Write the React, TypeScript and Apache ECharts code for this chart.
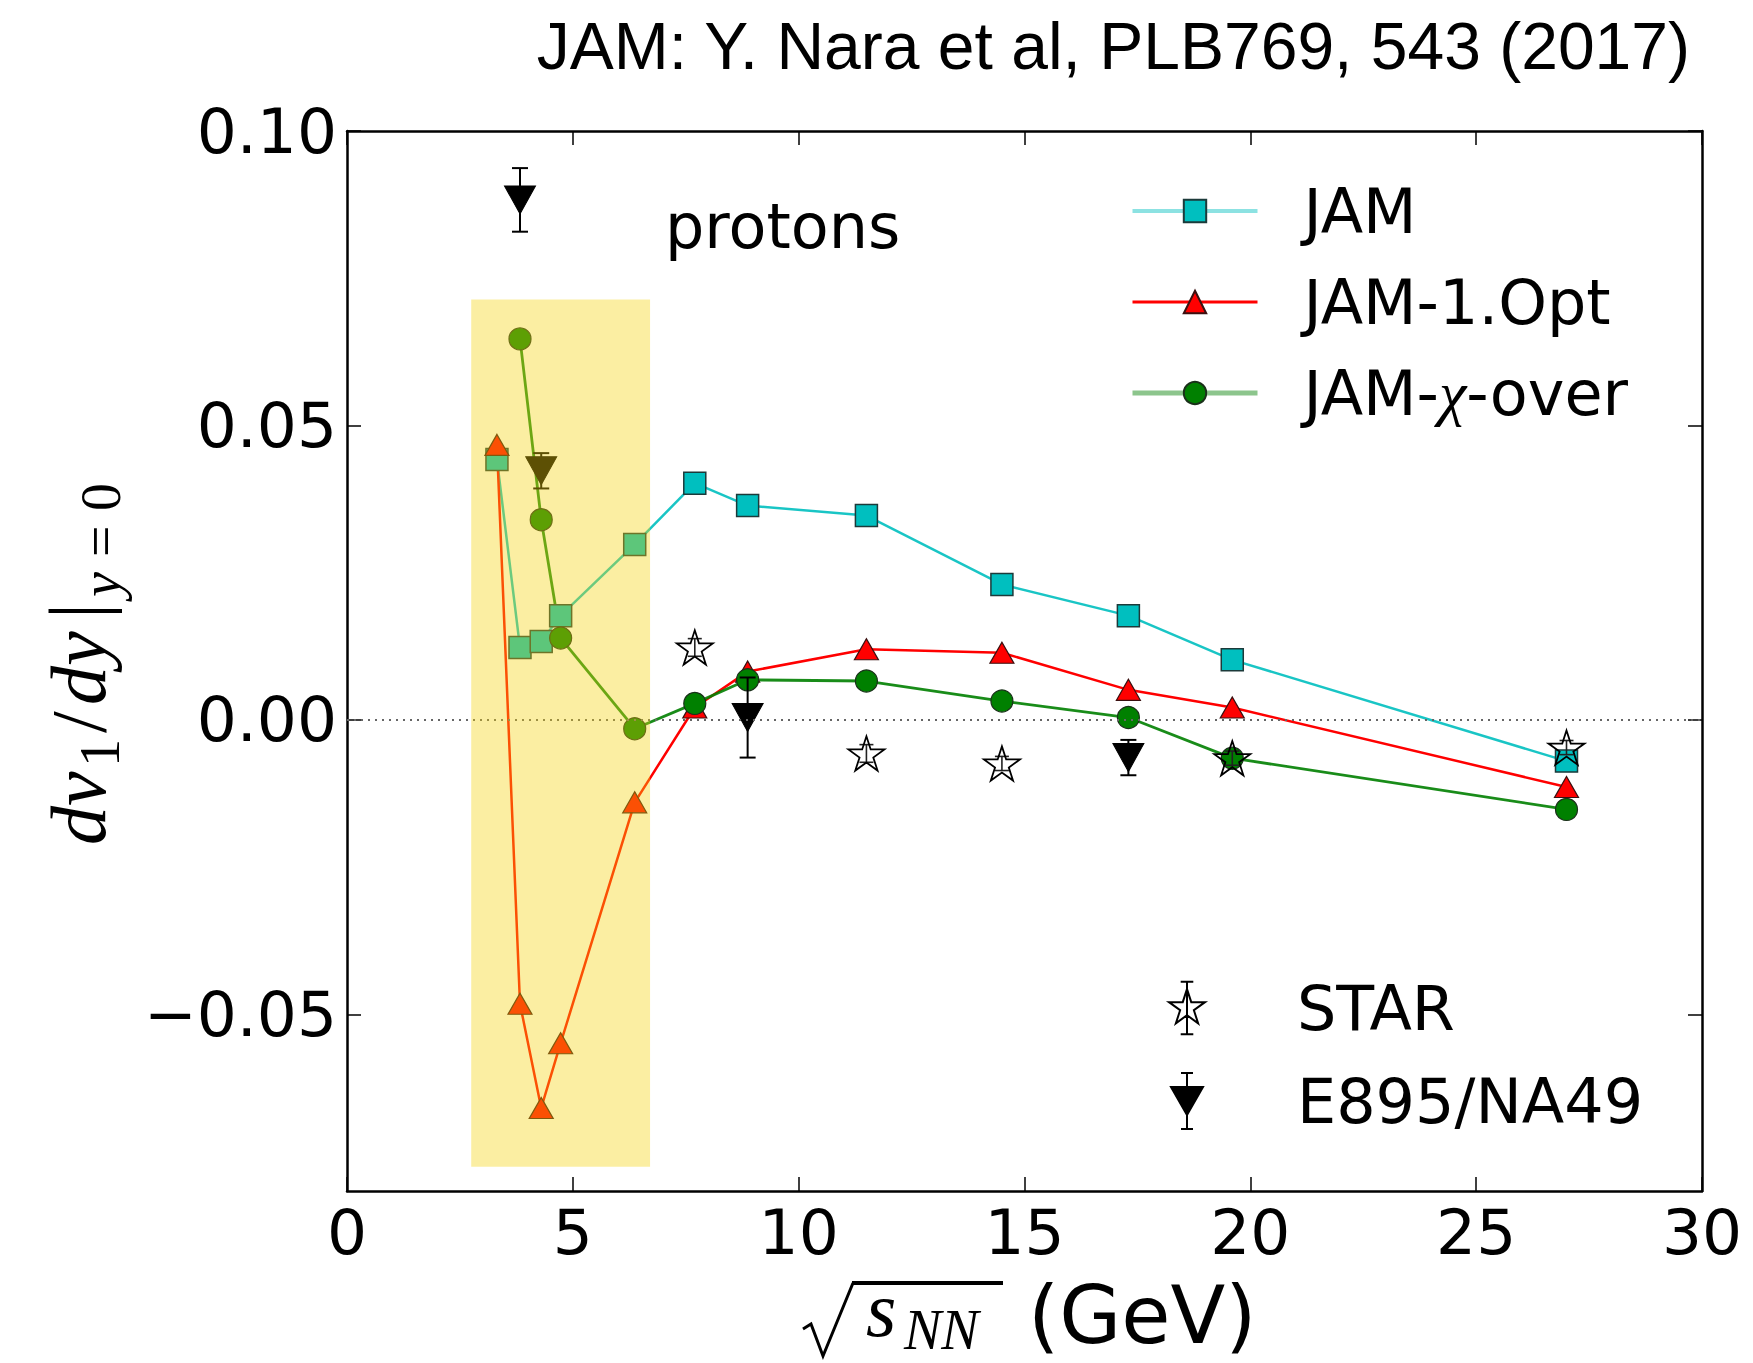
import React, { useEffect, useRef } from "react";
import * as echarts from "echarts";

// Collision energies (GeV) of the JAM model points
const energies = [3.32, 3.83, 4.3, 4.73, 6.37, 7.7, 8.87, 11.5, 14.5, 17.3, 19.6, 27.0];
// Proton directed-flow slope dv1/dy at mid-rapidity, model curves
const jamValues = [0.0442, 0.0123, 0.0133, 0.0177, 0.0298, 0.0402, 0.0364, 0.0347, 0.023, 0.0177, 0.0102, -0.007];
const jamOptValues = [0.0467, -0.0482, -0.0659, -0.0549, -0.014, 0.0021, 0.0082, 0.012, 0.0114, 0.0051, 0.0021, -0.0114];
const chiEnergies = [3.83, 4.3, 4.73, 6.37, 7.7, 8.87, 11.5, 14.5, 17.3, 19.6, 27.0];
const chiValues = [0.0647, 0.034, 0.0139, -0.0015, 0.0028, 0.0068, 0.0066, 0.0032, 0.0004, -0.0065, -0.0152];

// Measurements
const starEnergies = [7.7, 11.5, 14.5, 19.6, 27.0];
const starValues = [0.0123, -0.0057, -0.0074, -0.0065, -0.0047];
const starErrors = [0.0015, 0.0015, 0.0012, 0.0012, 0.0012];
const e895Energies = [3.83, 4.3, 8.87, 17.3];
const e895Values = [0.0883, 0.0423, 0.0004, -0.0064];
const e895Errors = [0.0054, 0.003, 0.0068, 0.003];

// Highlighted low-energy window
const bandEnergy = [2.75, 6.71];
const bandSlope = [-0.0759, 0.0714];

// Axis ticks
const xTicks = [0, 5, 10, 15, 20, 25, 30];
const yTicks = [-0.05, 0, 0.05, 0.1];

const STAR_PATH =
  "path://M0,-18L4.04,-5.56L17.12,-5.56L6.54,2.13L10.58,14.56L0,6.88L-10.58,14.56L-6.54,2.13L-17.12,-5.56L-4.04,-5.56Z";
const STAR_ICON =
  "path://M0,-18L4.04,-5.56L17.12,-5.56L6.54,2.13L10.58,14.56L0,6.88L-10.58,14.56L-6.54,2.13L-17.12,-5.56L-4.04,-5.56Z" +
  "M0,-25L0,25M-6,-25L6,-25M-6,25L6,25";
const E895_ICON = "path://M-16,-14L16,-14L0,14ZM0,-28L0,28M-6,-28L6,-28M-6,28L6,28";

const SANS = "DejaVu Sans";
const SERIF = "Liberation Serif";

function errorBars(color: string, width: number, half: number) {
  return (_params: any, api: any) => {
    const x = api.value(0);
    const y = api.value(1);
    const e = api.value(2);
    const top = api.coord([x, y + e]);
    const bot = api.coord([x, y - e]);
    const style = { stroke: color, lineWidth: width };
    return {
      type: "group",
      children: [
        { type: "line", shape: { x1: top[0], y1: top[1], x2: bot[0], y2: bot[1] }, style },
        { type: "line", shape: { x1: top[0] - half, y1: top[1], x2: top[0] + half, y2: top[1] }, style },
        { type: "line", shape: { x1: bot[0] - half, y1: bot[1], x2: bot[0] + half, y2: bot[1] }, style },
      ],
    };
  };
}

function central(baseline: number, size: number) {
  return baseline - 0.34 * size;
}

export default function App() {
  const ref = useRef<HTMLDivElement>(null);

  useEffect(() => {
    if (!ref.current) return;
    const chart = echarts.init(ref.current, undefined, { renderer: "svg" });

    const axisLine = { onZero: false, lineStyle: { color: "#000", width: 2.5 } };
    const axisTick = { inside: true, length: 14, lineStyle: { color: "#000", width: 1.5 } };
    const tickLabel = { fontSize: 63, fontFamily: SANS, color: "#000" };
    const yFmt = (v: number) => (v < 0 ? "\u2212" : "") + Math.abs(v).toFixed(2);

    const option: any = {
      animation: false,
      backgroundColor: "#fff",
      grid: { left: 347, top: 131, right: 51, bottom: 172, outerBoundsMode: "none" },
      xAxis: [
        {
          type: "value", min: 0, max: 30, interval: 5, position: "bottom",
          axisLine, axisTick,
          axisLabel: { ...tickLabel, margin: 10, customValues: xTicks },
          splitLine: { show: false },
        },
        {
          type: "value", min: 0, max: 30, interval: 5, position: "top",
          axisLine, axisTick, axisLabel: { show: false }, splitLine: { show: false },
        },
      ],
      yAxis: [
        {
          type: "value", min: -0.08, max: 0.1, position: "left",
          axisLine, axisTick: { ...axisTick, customValues: yTicks },
          axisLabel: { ...tickLabel, margin: 10, customValues: yTicks, formatter: yFmt },
          splitLine: { show: false },
        },
        {
          type: "value", min: -0.08, max: 0.1, position: "right",
          axisLine, axisTick: { ...axisTick, customValues: yTicks },
          axisLabel: { show: false }, splitLine: { show: false },
        },
      ],
      legend: [
        {
          selectedMode: false,
          orient: "vertical",
          left: 1125,
          top: 175,
          itemWidth: 125,
          itemHeight: 28,
          itemGap: 29,
          textStyle: {
            fontSize: 62, fontFamily: SANS, color: "#000", padding: [0, 0, 0, 41],
            rich: { chi: { fontSize: 62, fontFamily: SERIF, fontStyle: "italic", color: "#000" } },
          },
          formatter: (name: string) => (name === "JAM-\u03c7-over" ? "JAM-{chi|\u03c7}-over" : name),
          data: [
            { name: "JAM", lineStyle: { color: "#80dfdf", width: 4 } },
            { name: "JAM-1.Opt", lineStyle: { color: "#ff0000", width: 3 } },
            { name: "JAM-\u03c7-over", lineStyle: { color: "#7fbf7f", width: 5 } },
          ],
        },
        {
          selectedMode: false,
          orient: "vertical",
          left: 1163,
          top: 972,
          itemWidth: 36,
          itemHeight: 56,
          itemGap: 31,
          textStyle: { fontSize: 62, fontFamily: SANS, color: "#000", padding: [0, 0, 0, 87] },
          data: [
            { name: "STAR", icon: STAR_ICON },
            { name: "E895/NA49", icon: E895_ICON },
          ],
        },
      ],
      series: [
        {
          name: "JAM", type: "line", z: 2, silent: true,
          symbol: "rect", symbolSize: 22,
          data: energies.map((x, i) => [x, jamValues[i]]),
          lineStyle: { color: "#00bfbf", width: 2.5, opacity: 0.9 },
          itemStyle: { color: "#00bfbf", borderColor: "#1c3a3a", borderWidth: 1.5 },
          markLine: {
            silent: true, symbol: "none", label: { show: false },
            lineStyle: { color: "#666", type: [2, 5], width: 2 },
            data: [{ yAxis: 0 }],
          },
        },
        {
          name: "JAM-1.Opt", type: "line", z: 2, silent: true,
          symbol: "triangle", symbolSize: [24, 21],
          data: energies.map((x, i) => [x, jamOptValues[i]]),
          lineStyle: { color: "#ff0000", width: 2.5 },
          itemStyle: { color: "#ff0000", borderColor: "#3a1010", borderWidth: 1.2 },
        },
        {
          name: "JAM-\u03c7-over", type: "line", z: 2, silent: true,
          symbol: "circle", symbolSize: 22,
          data: chiEnergies.map((x, i) => [x, chiValues[i]]),
          lineStyle: { color: "#008000", width: 2.8, opacity: 0.9 },
          itemStyle: { color: "#008000", borderColor: "#1a301a", borderWidth: 1.2 },
        },
        {
          name: "STAR errors", type: "custom", z: 3, silent: true,
          renderItem: errorBars("#222", 1.6, 7),
          data: starEnergies.map((x, i) => [x, starValues[i], starErrors[i]]),
        },
        {
          name: "STAR", type: "scatter", z: 3, silent: true,
          symbol: STAR_PATH, symbolSize: 36, symbolKeepAspect: true,
          data: starEnergies.map((x, i) => [x, starValues[i]]),
          itemStyle: { color: "rgba(255,255,255,0)", borderColor: "#000", borderWidth: 1.8, opacity: 1 },
        },
        {
          name: "E895/NA49 errors", type: "custom", z: 3, silent: true,
          renderItem: errorBars("#000", 2, 8),
          data: e895Energies.map((x, i) => [x, e895Values[i], e895Errors[i]]),
        },
        {
          name: "E895/NA49", type: "scatter", z: 3, silent: true,
          symbol: "triangle", symbolRotate: 180, symbolSize: [31, 28],
          data: e895Energies.map((x, i) => [x, e895Values[i]]),
          itemStyle: { color: "#000", borderColor: "#000", borderWidth: 1, opacity: 1 },
        },
        {
          name: "window", type: "custom", z: 10, silent: true,
          renderItem: (_p: any, api: any) => {
            const a = api.coord([api.value(0), api.value(3)]);
            const b = api.coord([api.value(1), api.value(2)]);
            return {
              type: "rect",
              shape: { x: a[0], y: a[1], width: b[0] - a[0], height: b[1] - a[1] },
              style: { fill: "rgba(245,210,10,0.38)" },
            };
          },
          data: [[bandEnergy[0], bandEnergy[1], bandSlope[0], bandSlope[1]]],
        },
      ],
      graphic: [
        {
          type: "text", x: 1690, y: central(68, 66),
          style: {
            text: "JAM: Y. Nara et al, PLB769, 543 (2017)",
            fontSize: 66, fontFamily: "Liberation Sans", fill: "#000",
            textAlign: "right", textVerticalAlign: "middle",
          },
        },
        {
          type: "text", x: 665, y: central(248, 62),
          style: { text: "protons", fontSize: 62, fontFamily: SANS, fill: "#000", textAlign: "left", textVerticalAlign: "middle" },
        },
        // y-axis title: dv1/dy|y=0, reading bottom to top
        {
          type: "group", x: 105, y: 845, rotation: Math.PI / 2,
          children: [
            { type: "text", x: 0, y: central(0, 78), style: { text: "dv", fontSize: 78, fontFamily: SERIF, fontStyle: "italic", fill: "#000", textVerticalAlign: "middle" } },
            { type: "text", x: 78, y: central(14, 56), style: { text: "1", fontSize: 56, fontFamily: SERIF, fill: "#000", textVerticalAlign: "middle" } },
            { type: "text", x: 112, y: central(0, 78), style: { text: "/", fontSize: 78, fontFamily: SERIF, fill: "#000", textVerticalAlign: "middle" } },
            { type: "text", x: 140, y: central(0, 78), style: { text: "dy", fontSize: 78, fontFamily: SERIF, fontStyle: "italic", fill: "#000", textVerticalAlign: "middle" } },
            { type: "text", x: 226, y: central(0, 80), style: { text: "|", fontSize: 80, fontFamily: SERIF, fill: "#000", textVerticalAlign: "middle" } },
            { type: "text", x: 248, y: central(15, 56), style: { text: "y", fontSize: 56, fontFamily: SERIF, fontStyle: "italic", fill: "#000", textVerticalAlign: "middle" } },
            { type: "text", x: 288, y: central(15, 56), style: { text: "=", fontSize: 56, fontFamily: SERIF, fill: "#000", textVerticalAlign: "middle" } },
            { type: "text", x: 334, y: central(15, 56), style: { text: "0", fontSize: 56, fontFamily: SERIF, fill: "#000", textVerticalAlign: "middle" } },
          ],
        },
        // x-axis title: sqrt(s_NN) (GeV)
        {
          type: "polyline",
          shape: { points: [[803, 1329], [811, 1324], [823, 1356], [853, 1283]] },
          style: { stroke: "#000", lineWidth: 3, fill: null },
        },
        { type: "line", shape: { x1: 852, y1: 1283, x2: 1003, y2: 1283 }, style: { stroke: "#000", lineWidth: 4 } },
        { type: "text", x: 866, y: central(1336, 78), style: { text: "s", fontSize: 78, fontFamily: SERIF, fontStyle: "italic", fill: "#000", textVerticalAlign: "middle" } },
        { type: "text", x: 904, y: central(1349, 56), style: { text: "NN", fontSize: 56, fontFamily: SERIF, fontStyle: "italic", fill: "#000", textVerticalAlign: "middle" } },
        { type: "text", x: 1028, y: central(1343, 80), style: { text: "(GeV)", fontSize: 80, fontFamily: SANS, fill: "#000", textVerticalAlign: "middle" } },
      ],
    };

    chart.setOption(option);
    return () => chart.dispose();
  }, []);

  return (
    <div
      ref={ref}
      style={{ position: "absolute", left: 0, top: 0, width: 1753, height: 1363, background: "#fff" }}
    />
  );
}
